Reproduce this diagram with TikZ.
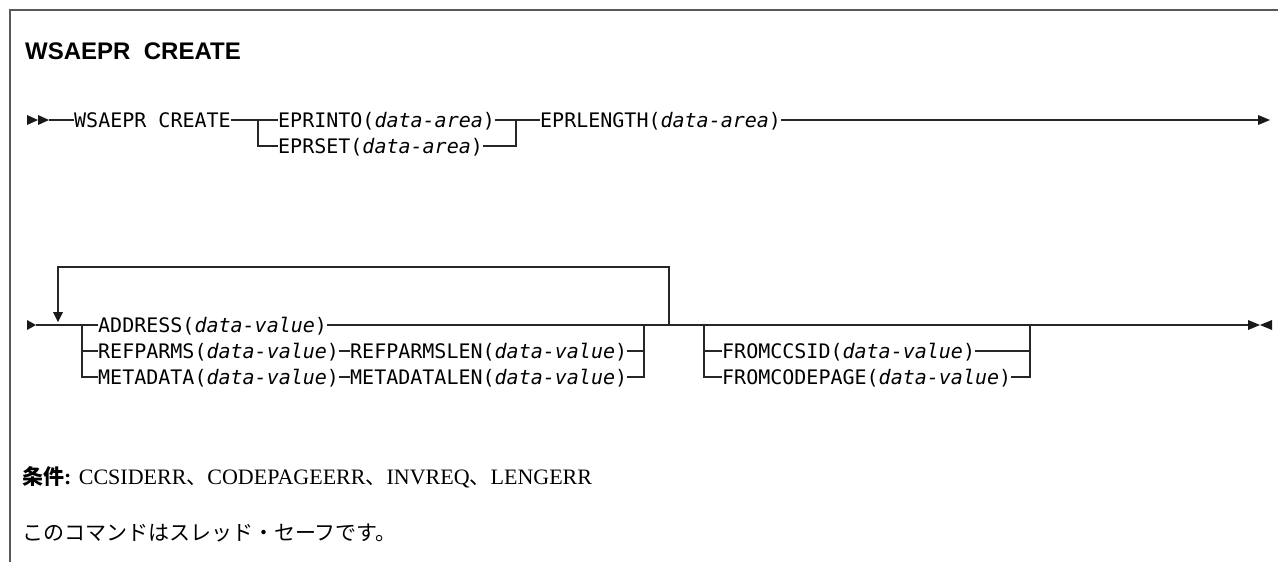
\documentclass[tikz,border=0pt]{standalone}
\usepackage{fontspec}
\setmainfont{Liberation Serif}
\newfontfamily\synfont{DejaVu Sans Mono}
\newfontfamily\headfont{Liberation Sans}
\newfontfamily\jpfont{Noto Sans CJK JP}
\newcommand{\da}{\textit{data-area}}
\newcommand{\dv}{\textit{data-value}}
\newcommand{\jpsz}{\fontsize{21}{25}\selectfont\jpfont}

\begin{document}
\begin{tikzpicture}[x=1pt,y=-1pt,
  rail/.style={draw=black!85, line width=1.3pt},
  framed/.style={draw=black!65, line width=1.6pt},
  syn/.style={font=\fontsize{20}{24}\selectfont\synfont, inner sep=0pt, anchor=base west, yshift=-7pt},
  tipfill/.style={fill=black!90, draw=none},
]
\useasboundingbox (0,0) rectangle (1278,562);

% page frame: top and left rules only
\draw[framed] (10,562) -- (10,10) -- (1278,10);

% heading
\node[anchor=base west, inner sep=0pt, font=\fontsize{24}{28}\selectfont\headfont\bfseries] (title) at (25,59) {WSAEPR\ \ CREATE};

% ---------- first rail ----------
\coordinate (s1) at (49,120);
\fill[tipfill] (27,115) -- (38,120) -- (27,125) -- cycle;
\fill[tipfill] (38,115) -- (49,120) -- (38,125) -- cycle;
\node[syn] (cmd) at (74,120) {WSAEPR CREATE};
\coordinate (b1) at (258,120);
\coordinate (b1s) at (258,146);
\node[syn] (into) at (278,120) {EPRINTO(\da)};
\node[syn] (set) at (278,146) {EPRSET(\da)};
\coordinate (j1) at (516,120);
\coordinate (j1s) at (516,146);
\node[syn] (len) at (540,120) {EPRLENGTH(\da)};
\coordinate (e1) at (1258,120);

\draw[rail] (s1) -- (cmd.west |- s1);
\draw[rail] (cmd.east |- s1) -- (into.west |- s1);
\draw[rail] (b1) -- (b1s) -- (set.west |- b1s);
\draw[rail] (into.east |- s1) -- (len.west |- s1);
\draw[rail] (set.east |- b1s) -- (j1s) -- (j1);
\draw[rail] (len.east |- s1) -- (e1);
\fill[tipfill] (1258,115) -- (1270,120) -- (1258,125) -- cycle;

% ---------- second rail ----------
\coordinate (s2) at (36,325);
\fill[tipfill] (27,320) -- (36,325) -- (27,330) -- cycle;
\coordinate (lp) at (58,312);
\coordinate (b2) at (82,325);
\coordinate (b2r) at (82,351);
\coordinate (b2m) at (82,377);
\node[syn] (addr) at (98,325) {ADDRESS(\dv)};
\node[syn] (ref) at (98,351) {REFPARMS(\dv)};
\node[syn] (refl) at (350,351) {REFPARMSLEN(\dv)};
\node[syn] (meta) at (98,377) {METADATA(\dv)};
\node[syn] (metal) at (350,377) {METADATALEN(\dv)};
\coordinate (j2) at (644,325);
\coordinate (j2r) at (644,351);
\coordinate (j2m) at (644,377);
\coordinate (rp) at (669,325);
\coordinate (f0) at (704,325);
\coordinate (f1) at (704,351);
\coordinate (f2) at (704,377);
\node[syn] (fcc) at (722,351) {FROMCCSID(\dv)};
\node[syn] (fcp) at (722,377) {FROMCODEPAGE(\dv)};
\coordinate (g0) at (1030,325);
\coordinate (g1) at (1030,351);
\coordinate (g2) at (1030,377);
\coordinate (e2) at (1248,325);

\draw[rail] (s2) -- (addr.west |- s2);
\draw[rail] (addr.east |- s2) -- (e2);
\draw[rail, line width=2.2pt] (1035,325) -- (1058,325);
% repeat loop
\draw[rail] (rp) -- (669,267) -- (58,267) -- (lp);
\fill[tipfill] (53,312) -- (63,312) -- (58,322) -- cycle;
% choice group
\draw[rail] (b2) -- (b2m) -- (meta.west |- b2m);
\draw[rail] (b2r) -- (ref.west |- b2r);
\draw[rail] (ref.east |- b2r) -- (refl.west |- b2r);
\draw[rail] (meta.east |- b2m) -- (metal.west |- b2m);
\draw[rail] (refl.east |- b2r) -- (j2r);
\draw[rail] (metal.east |- b2m) -- (j2m) -- (j2);
% optional group
\draw[rail] (f0) -- (f2) -- (fcp.west |- f2);
\draw[rail] (f1) -- (fcc.west |- f1);
\draw[rail] (fcc.east |- f1) -- (g1);
\draw[rail] (fcp.east |- f2) -- (g2) -- (g0);
% end mark
\fill[tipfill] (1248,320) -- (1260,325) -- (1248,330) -- cycle;
\fill[tipfill] (1272,320) -- (1260,325) -- (1272,330) -- cycle;

% ---------- notes ----------
\node[anchor=base west, inner sep=0pt, font=\fontsize{22}{26}\selectfont] (cond) at (22,484)
  {{\jpsz\bfseries 条件}\textbf{:} CCSIDERR{\jpsz 、}CODEPAGEERR{\jpsz 、}INVREQ{\jpsz 、}LENGERR};
\node[anchor=base west, inner sep=0pt, font=\jpsz] (note) at (22,540)
  {このコマンドはスレッド・セーフです。};
\end{tikzpicture}
\end{document}
